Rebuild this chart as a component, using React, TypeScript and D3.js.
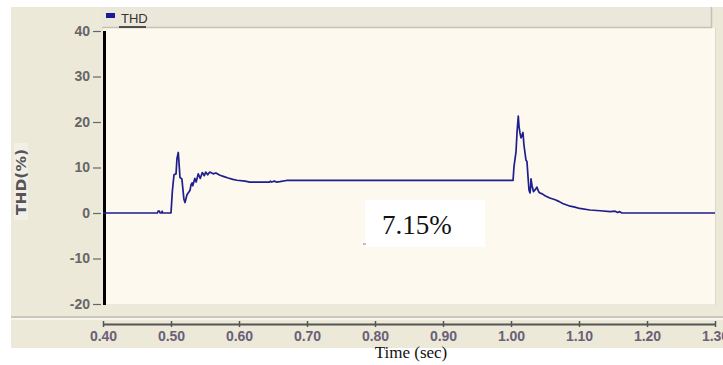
import { useRef, useEffect } from "react";
import * as d3 from "d3";

// THD trace (time in sec, THD in %)
const timeSec = [
  0.4, 0.48, 0.481, 0.483, 0.484, 0.486, 0.487, 0.488, 0.5,
  0.502, 0.5044, 0.5074, 0.5088, 0.5107, 0.5118, 0.5132, 0.516, 0.519, 0.5206,
  0.5235, 0.528, 0.5294, 0.531, 0.532, 0.535, 0.537, 0.54, 0.543, 0.546,
  0.549, 0.551, 0.554, 0.557, 0.562, 0.566, 0.572, 0.578, 0.584, 0.591,
  0.597, 0.609, 0.616, 0.63, 0.645, 0.646, 0.648, 0.652, 0.655, 0.66, 0.67,
  1.003, 1.0044, 1.0074, 1.0088, 1.0107, 1.0118, 1.0132, 1.0147, 1.0176, 1.019,
  1.022, 1.0235, 1.025, 1.0265, 1.028, 1.029, 1.0294, 1.031, 1.033, 1.036,
  1.038, 1.041, 1.0426, 1.046, 1.05, 1.057, 1.065, 1.071, 1.076, 1.087,
  1.094, 1.101, 1.116, 1.131, 1.146, 1.153, 1.157, 1.16, 1.163, 1.3,
];
const thdValues = [
  0, 0, 0.4, 0.4, 0, 0, 0.4, 0, 0,
  4.8, 8.4, 8.6, 12, 13.3, 11, 7.8, 7.5, 3, 2.3,
  4, 5, 6.2, 6.6, 6.0, 7.6, 6.8, 8.6, 7.6, 8.9,
  8.2, 9.0, 8.4, 9.0, 8.6, 8.8, 8.3, 8.0, 7.7, 7.4,
  7.2, 7.0, 6.8, 6.8, 6.8, 7.0, 6.8, 7.0, 6.8, 6.9, 7.15,
  7.15, 10.2, 13.5, 17.6, 21.3, 19, 17.6, 16.5, 17.7, 15,
  11.6, 11.3, 8, 5, 4.4, 6, 7.5, 6, 4.7, 5.2,
  5.7, 4.6, 4.4, 4.2, 3.8, 3.3, 2.9, 2.5, 2.1, 1.5,
  1.3, 1.0, 0.66, 0.5, 0.3, 0.4, 0.1, 0.3, 0, 0,
];
const xTicks = [0.4, 0.5, 0.6, 0.7, 0.8, 0.9, 1.0, 1.1, 1.2, 1.3];
const yTicks = [-20, -10, 0, 10, 20, 30, 40];
const seriesName = "THD";
const annotation = "7.15%";

const sans = "'Liberation Sans', Arial, sans-serif";
const serif = "'Liberation Serif', 'Times New Roman', serif";

function App() {
  const ref = useRef<SVGSVGElement>(null);

  useEffect(() => {
    const svg = d3.select(ref.current);
    svg.selectAll("*").remove();

    const x = d3.scaleLinear().domain([0.4, 1.3]).range([103, 715]);
    const y = d3.scaleLinear().domain([-20, 40]).range([304, 31]);

    // frame
    svg.append("rect").attr("x", 11).attr("y", 7).attr("width", 712).attr("height", 341).attr("fill", "#ECE9D8");
    svg.append("rect").attr("x", 103).attr("y", 28).attr("width", 612).attr("height", 276).attr("fill", "#FDF9EE");
    svg.append("line").attr("x1", 715.5).attr("x2", 715.5).attr("y1", 28).attr("y2", 305).attr("stroke", "#dcd9cc");

    // legend bar
    svg.append("rect").attr("x", 102).attr("y", 7).attr("width", 610).attr("height", 21).attr("fill", "#EBE8DB");
    svg.append("line").attr("x1", 102).attr("x2", 712).attr("y1", 27.5).attr("y2", 27.5).attr("stroke", "#c4c1b6").attr("stroke-width", 1.5);
    svg.append("line").attr("x1", 711.5).attr("x2", 711.5).attr("y1", 7).attr("y2", 28).attr("stroke", "#c4c1b6").attr("stroke-width", 1.5);
    svg.append("rect").attr("x", 106).attr("y", 13).attr("width", 9).attr("height", 5).attr("fill", "#1a1a9a");
    svg.append("text").attr("x", 121).attr("y", 23).attr("font-family", sans)
      .attr("font-size", 13).attr("fill", "#333").text(seriesName);
    svg.append("line").attr("x1", 119).attr("x2", 146).attr("y1", 27).attr("y2", 27).attr("stroke", "#222").attr("stroke-width", 1.5);

    // separator strip above the time axis
    svg.append("rect").attr("x", 11).attr("y", 316).attr("width", 712).attr("height", 2).attr("fill", "#cac7bc");
    svg.append("rect").attr("x", 11).attr("y", 318).attr("width", 712).attr("height", 2).attr("fill", "#f5f3ea");

    // y axis (plain hyphen for negatives, as in the capture)
    const yAxis = svg.append("g").attr("transform", "translate(104,0)")
      .call(d3.axisLeft(y).tickValues(yTicks).tickSize(0).tickFormat(d => String(d)));
    yAxis.select(".domain").remove();
    yAxis.selectAll(".tick line").attr("x1", -11).attr("x2", -3).attr("stroke", "#666").attr("stroke-width", 1.2);
    yAxis.selectAll(".tick text").attr("x", -14).attr("font-family", sans).attr("font-size", 14)
      .attr("font-weight", "bold").attr("fill", "#666");
    svg.append("line").attr("x1", 104.5).attr("x2", 104.5).attr("y1", 31).attr("y2", 305)
      .attr("stroke", "#000").attr("stroke-width", 3);

    // x axis
    const xAxis = svg.append("g").attr("transform", "translate(0,324)")
      .call(d3.axisBottom(x).tickValues(xTicks).tickSize(4).tickSizeOuter(0).tickPadding(3).tickFormat(d3.format(".2f")));
    xAxis.select(".domain").attr("stroke", "#555").attr("stroke-width", 2);
    xAxis.selectAll(".tick line").attr("stroke", "#555").attr("stroke-width", 1.5).attr("y1", -3).attr("y2", 3);
    xAxis.selectAll(".tick text").attr("font-family", sans).attr("font-size", 14)
      .attr("font-weight", "bold").attr("fill", "#6a6078");

    // axis titles
    svg.append("rect").attr("x", 14).attr("y", 143).attr("width", 14).attr("height", 77).attr("fill", "#F1EFE6");
    svg.append("text").attr("transform", "translate(26,182) rotate(-90)").attr("text-anchor", "middle")
      .attr("font-family", "'DejaVu Sans', Verdana, sans-serif").attr("font-weight", "bold").attr("font-size", 14)
      .attr("textLength", 66).attr("lengthAdjust", "spacingAndGlyphs").attr("fill", "#555").text("THD(%)");
    svg.append("text").attr("x", 411).attr("y", 358).attr("text-anchor", "middle")
      .attr("font-family", serif).attr("font-size", 17)
      .attr("fill", "#111").text("Time (sec)");

    // trace
    const pts = timeSec.map((t, i) => [t, thdValues[i]] as [number, number]);
    const line = d3.line<[number, number]>().x(d => x(d[0])).y(d => y(d[1]));
    svg.append("path").datum(pts).attr("d", line).attr("fill", "none")
      .attr("stroke", "#1e1e8c").attr("stroke-width", 1.7).attr("stroke-linejoin", "round");

    // annotation
    svg.append("rect").attr("x", 365).attr("y", 200).attr("width", 120).attr("height", 47).attr("fill", "#fff");
    svg.append("line").attr("x1", 363).attr("x2", 366).attr("y1", 244).attr("y2", 244).attr("stroke", "#888");
    svg.append("text").attr("x", 382).attr("y", 234)
      .attr("font-family", serif).attr("font-size", 27)
      .attr("fill", "#111").text(annotation);
  }, []);

  return (
    <svg ref={ref} width={723} height={365}
      style={{ position: "absolute", left: 0, top: 0, background: "#fff" }} />
  );
}

export default App;
